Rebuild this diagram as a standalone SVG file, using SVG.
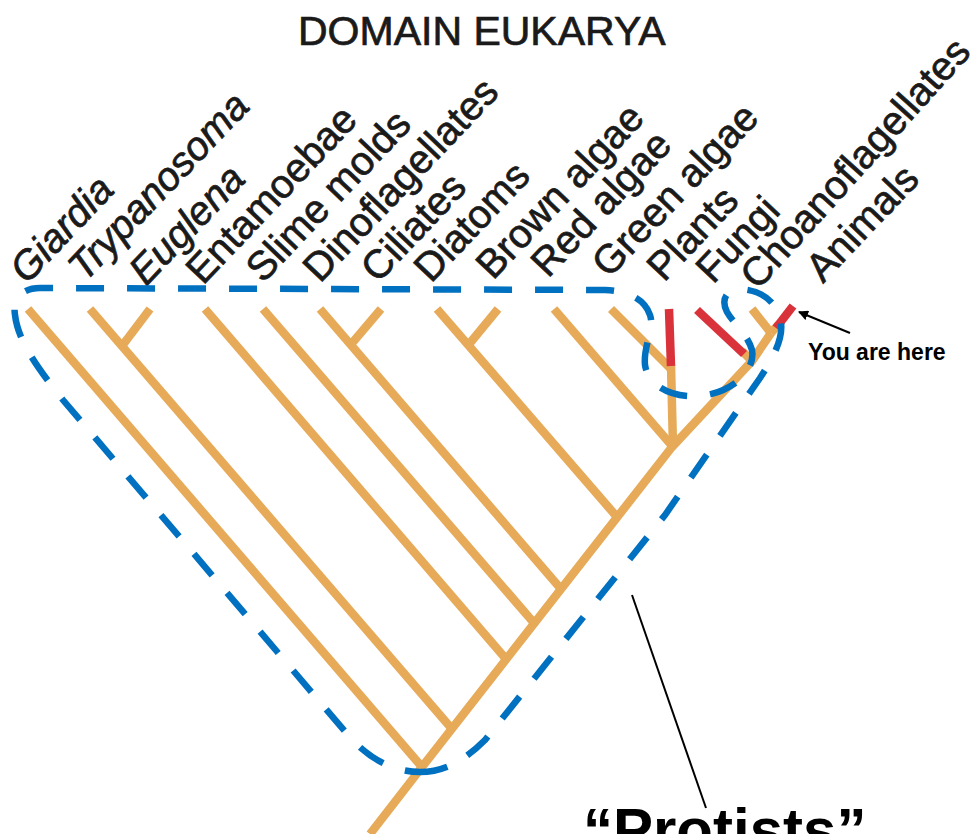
<svg xmlns="http://www.w3.org/2000/svg" width="974" height="834" viewBox="0 0 974 834">
<style>
.br{fill:none;stroke:#E6AA58;stroke-width:8.5;stroke-linecap:butt;stroke-linejoin:round}
.rd{fill:none;stroke:#D9323A;stroke-width:8.5;stroke-linecap:butt}
.lb{font-family:"Liberation Sans",Arial,sans-serif;font-size:40px;fill:#1a1a1a;stroke:#1a1a1a;stroke-width:0.7}
.it{font-style:italic}
.title{font-family:"Liberation Sans",Arial,sans-serif;font-size:41px;fill:#1a1a1a;stroke:#1a1a1a;stroke-width:0.7}
.ann{font-family:"Liberation Sans",Arial,sans-serif;font-weight:bold;fill:#000}
.outline{fill:none;stroke:#0070C0;stroke-width:6.5;stroke-dasharray:28 23}
</style>
<defs>
<marker id="ah" markerWidth="10" markerHeight="10" refX="9" refY="5" orient="auto" markerUnits="userSpaceOnUse" viewBox="0 0 10 10">
<path d="M0,0 L10,5 L0,10 z" fill="#000"/>
</marker>
</defs>
<rect width="974" height="834" fill="#fff"/>
<text class="title" x="298" y="45">DOMAIN EUKARYA</text>

<g id="connectors">
<polyline class="br" points="370,834 422,767 672,447 752,361 771,333"/>
<line class="br" x1="673" y1="447" x2="671" y2="365"/>
<line class="br" x1="752" y1="361" x2="742" y2="351"/>
<line class="br" x1="771" y1="333" x2="778" y2="325"/>
</g>

<g id="giardia"><line class="br" x1="28" y1="309" x2="422" y2="767"/><text class="lb it" transform="translate(27,285) rotate(-46.5)">Giardia</text></g>
<g id="trypanosoma"><line class="br" x1="90" y1="309" x2="452" y2="729"/><text class="lb it" transform="translate(85,283) rotate(-46.5)">Trypanosoma</text></g>
<g id="euglena"><line class="br" x1="150" y1="309" x2="122" y2="346"/><text class="lb it" transform="translate(146,287) rotate(-46.5)">Euglena</text></g>
<g id="entamoebae"><line class="br" x1="205" y1="309" x2="506" y2="659"/><text class="lb" transform="translate(203,286) rotate(-46.5)">Entamoebae</text></g>
<g id="slime-molds"><line class="br" x1="263" y1="309" x2="534" y2="623"/><text class="lb" transform="translate(263,284) rotate(-46.5)">Slime molds</text></g>
<g id="dinoflagellates"><line class="br" x1="320" y1="309" x2="561" y2="589"/><text class="lb" transform="translate(320,284) rotate(-46.5)">Dinoflagellates</text></g>
<g id="ciliates"><line class="br" x1="381" y1="309" x2="353" y2="342"/><text class="lb" transform="translate(378,284) rotate(-46.5)">Ciliates</text></g>
<g id="diatoms"><line class="br" x1="437" y1="309" x2="617" y2="517"/><text class="lb" transform="translate(431,284) rotate(-46.5)">Diatoms</text></g>
<g id="brown-algae"><line class="br" x1="498" y1="309" x2="470" y2="343"/><text class="lb" transform="translate(493,281) rotate(-46.5)">Brown algae</text></g>
<g id="red-algae"><line class="br" x1="554" y1="309" x2="673" y2="447"/><text class="lb" transform="translate(548,279) rotate(-46.5)">Red algae</text></g>
<g id="green-algae"><line class="br" x1="611" y1="309" x2="671" y2="369"/><text class="lb" transform="translate(609,279) rotate(-46.5)">Green algae</text></g>
<g id="plants"><line class="rd" x1="669" y1="309" x2="671" y2="366"/><text class="lb" transform="translate(664,283) rotate(-46.5)">Plants</text></g>
<g id="fungi"><line class="rd" x1="697" y1="310" x2="744" y2="354"/><text class="lb" transform="translate(713,285) rotate(-46.5)">Fungi</text></g>
<g id="choanoflagellates"><line class="br" x1="752" y1="309" x2="771" y2="333"/><text class="lb" transform="translate(758,291) rotate(-48)" font-size="36">Choanoflagellates</text></g>
<g id="animals"><line class="rd" x1="793" y1="306" x2="776" y2="328"/><text class="lb" transform="translate(823,284) rotate(-46.5)">Animals</text></g>

<g id="protists-outline">
<path class="outline" d="M420,772 C445,772 465,760 485,740 L665,515 L760,378 C775,355 785,335 780,318 C775,300 760,290 740,289 C728,289 720,298 727,312 C733,323 747,333 752,350 C756,372 730,393 700,396 C670,398 648,385 645,365 C643,345 655,330 650,315 C645,300 630,291 605,290 L40,288 C25,288 12,296 15,315 C18,340 35,365 63,400 L348,735 C365,755 390,772 420,772 Z"/>
</g>

<g id="you-are-here">
<line x1="850" y1="333" x2="799" y2="312" stroke="#000" stroke-width="2" marker-end="url(#ah)"/>
<text class="ann" x="808" y="360" font-size="23">You are here</text>
</g>

<g id="protists-label">
<line x1="632" y1="595" x2="706" y2="808" stroke="#000" stroke-width="2"/>
<text class="ann" x="583" y="850" font-size="60">“Protists”</text>
</g>
</svg>
